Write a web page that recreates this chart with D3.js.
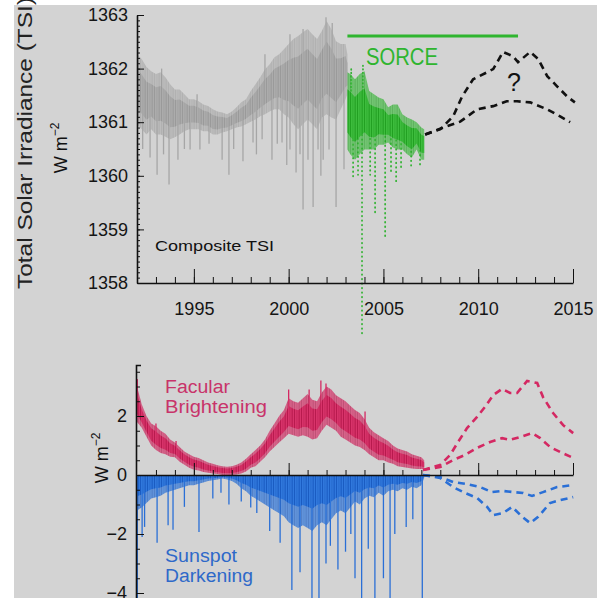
<!DOCTYPE html>
<html>
<head>
<meta charset="utf-8">
<script src="https://cdn.jsdelivr.net/npm/d3@7"></script>
<style>
  body { margin: 0; background: #fff; }
  svg { display: block; font-family: "Liberation Sans", Arial, sans-serif; }
  .axis path, .axis line { stroke: #111; }
  .axis text { fill: #151515; font-size: 18px; }
</style>
</head>
<body>
<svg id="chart" width="606" height="598"></svg>
<script>
// ---- top panel: composite TSI, binned envelope (W m-2) ----
const compositeYears = [1992, 1992.25, 1992.5, 1992.75, 1993, 1993.25, 1993.5, 1993.75, 1994, 1994.25, 1994.5, 1994.75,
  1995, 1995.25, 1995.5, 1995.75, 1996, 1996.25, 1996.5, 1996.75, 1997, 1997.25, 1997.5, 1997.75,
  1998, 1998.25, 1998.5, 1998.75, 1999, 1999.25, 1999.5, 1999.75, 2000, 2000.25, 2000.5, 2000.75,
  2001, 2001.25, 2001.5, 2001.75, 2002, 2002.25, 2002.5, 2002.75, 2003, 2003.1];
const compositeHigh = [1362.27, 1362.18, 1362.03, 1361.95, 1361.90, 1361.93, 1361.84, 1361.71, 1361.61, 1361.61, 1361.52, 1361.43,
  1361.43, 1361.39, 1361.33, 1361.30, 1361.24, 1361.20, 1361.18, 1361.15, 1361.20, 1361.28, 1361.37, 1361.43,
  1361.58, 1361.71, 1361.84, 1361.99, 1362.08, 1362.21, 1362.27, 1362.36, 1362.46, 1362.55, 1362.61, 1362.68,
  1362.74, 1362.64, 1362.55, 1362.70, 1362.89, 1362.74, 1362.51, 1362.46, 1362.46, 1362.27];
const compositeLow = [1360.96, 1360.87, 1360.77, 1360.87, 1360.77, 1360.77, 1360.73, 1360.68, 1360.72, 1360.77, 1360.83, 1360.87,
  1360.87, 1360.87, 1360.83, 1360.83, 1360.77, 1360.77, 1360.81, 1360.83, 1360.87, 1360.90, 1360.92, 1360.96,
  1361.01, 1361.05, 1361.11, 1361.15, 1361.20, 1361.24, 1361.24, 1361.15, 1361.09, 1360.96, 1360.87, 1360.96,
  1361.05, 1360.96, 1360.87, 1361.09, 1361.15, 1361.09, 1361.05, 1361.24, 1361.43, 1361.52];
const compositeDips = [[1992.3, 1360.5], [1992.69, 1360.34], [1993.06, 1360.02], [1993.4, 1360.4], [1993.69, 1359.84],
  [1994.16, 1360.30], [1994.5, 1360.5], [1994.80, 1360.49], [1995.32, 1360.49], [1995.8, 1360.6], [1996.49, 1360.30],
  [1996.85, 1360.02], [1997.1, 1360.5], [1997.59, 1360.27], [1998.12, 1360.62], [1998.3, 1360.4], [1998.60, 1360.68],
  [1999.12, 1360.30], [1999.4, 1360.6], [1999.65, 1360.62], [1999.9, 1360.2], [2000.07, 1360.49], [2000.39, 1360.06],
  [2000.6, 1360.4], [2000.76, 1359.37], [2001.02, 1360.30], [2001.29, 1359.42], [2001.55, 1360.49], [2001.7, 1360.0],
  [2001.82, 1360.30], [2002.13, 1360.49], [2002.50, 1359.42], [2002.92, 1360.12]];
const compositePeaks = [[1992.05, 1362.6], [1993.3, 1362.0], [1995.17, 1361.52], [1998.75, 1362.27], [2000.07, 1362.64],
  [2000.76, 1362.74], [2001.97, 1362.96], [2002.3, 1362.85]];

// SORCE measurements
const sorceYears = [2003.1, 2003.25, 2003.5, 2003.75, 2004, 2004.25, 2004.5, 2004.75, 2005, 2005.25, 2005.5, 2005.75,
  2006, 2006.25, 2006.5, 2006.75, 2007, 2007.15];
const sorceHigh = [1361.93, 1361.90, 1361.80, 1361.90, 1361.95, 1361.58, 1361.52, 1361.46, 1361.43, 1361.28, 1361.33, 1361.33,
  1361.15, 1361.09, 1361.05, 1361.00, 1360.90, 1360.87];
const sorceLow = [1360.49, 1360.40, 1360.30, 1360.40, 1360.49, 1360.49, 1360.49, 1360.58, 1360.58, 1360.62, 1360.53, 1360.49,
  1360.49, 1360.40, 1360.34, 1360.49, 1360.30, 1360.30];
const sorceDips = [[2003.40, 1359.99], [2003.66, 1360.02], [2003.87, 1357.06], [2004.30, 1360.02], [2004.56, 1359.31],
  [2005.09, 1358.86], [2005.40, 1360.02], [2005.67, 1359.87], [2005.93, 1360.12], [2006.46, 1360.12], [2006.93, 1360.21]];
const sorcePeaks = [[2003.3, 1362.0], [2003.92, 1362.08]];

// projected TSI (dashed)
const tsiUpperYears = [2007.2, 2008.0, 2008.68, 2009.15, 2009.73, 2010.79, 2011.31, 2011.84, 2012.1, 2012.74, 2013.16, 2013.64, 2014.16, 2014.69, 2015.1];
const tsiUpperValues = [1360.77, 1360.87, 1361.11, 1361.48, 1361.80, 1361.99, 1362.31, 1362.23, 1362.12, 1362.31, 1362.18, 1361.86, 1361.67, 1361.48, 1361.37];
const tsiLowerYears = [2007.2, 2008.15, 2009.05, 2009.94, 2010.79, 2011.5, 2012.05, 2012.74, 2013.64, 2014.32, 2014.85];
const tsiLowerValues = [1360.77, 1360.90, 1361.01, 1361.24, 1361.30, 1361.39, 1361.39, 1361.37, 1361.24, 1361.11, 1361.00];

// ---- bottom panel: facular brightening / sunspot darkening ----
const componentYears = [1992, 1992.25, 1992.5, 1992.75, 1993, 1993.25, 1993.5, 1993.75, 1994, 1994.25, 1994.5, 1994.75,
  1995, 1995.25, 1995.5, 1995.75, 1996, 1996.25, 1996.5, 1996.75, 1997, 1997.25, 1997.5, 1997.75,
  1998, 1998.25, 1998.5, 1998.75, 1999, 1999.25, 1999.5, 1999.75, 2000, 2000.25, 2000.5, 2000.75,
  2001, 2001.25, 2001.5, 2001.75, 2002, 2002.25, 2002.5, 2002.75, 2003, 2003.25, 2003.5, 2003.75,
  2004, 2004.25, 2004.5, 2004.75, 2005, 2005.25, 2005.5, 2005.75, 2006, 2006.25, 2006.5, 2006.75, 2007, 2007.15];
const facularHigh = [3.0, 2.4, 2.0, 1.75, 1.65, 1.5, 1.4, 1.2, 1.1, 0.95, 0.8, 0.7,
  0.62, 0.58, 0.5, 0.42, 0.38, 0.33, 0.3, 0.28, 0.3, 0.35, 0.42, 0.55,
  0.7, 0.85, 1.0, 1.2, 1.5, 1.75, 2.0, 2.2, 2.6, 2.5, 2.45, 2.6,
  2.75, 2.55, 2.5, 2.8, 3.0, 2.9, 2.7, 2.6, 2.5, 2.35, 2.2, 2.1,
  1.9, 1.6, 1.45, 1.35, 1.25, 1.15, 1.0, 0.9, 0.85, 0.8, 0.7, 0.65, 0.6, 0.5];
const facularLow = [1.8, 1.6, 1.3, 1.0, 0.85, 0.75, 0.7, 0.62, 0.6, 0.45, 0.35, 0.25,
  0.18, 0.15, 0.1, 0.08, 0.05, 0.03, 0.0, 0.0, 0.0, 0.02, 0.05, 0.12,
  0.25, 0.3, 0.45, 0.6, 0.8, 0.95, 1.1, 1.25, 1.4, 1.35, 1.3, 1.35,
  1.3, 1.2, 1.25, 1.5, 1.7, 1.6, 1.5, 1.3, 1.2, 1.1, 1.0, 0.95,
  0.85, 0.7, 0.6, 0.5, 0.5, 0.42, 0.38, 0.3, 0.27, 0.25, 0.22, 0.2, 0.2, 0.2];
const facularPeaks = [[1992.02, 3.25], [1993.0, 1.75], [1994.06, 1.15], [2000.0, 2.9], [2001.08, 2.9], [2001.7, 3.2],
  [2001.97, 3.1], [2004.03, 2.15]];
const sunspotLow = [-1.2, -1.1, -0.95, -0.8, -0.75, -0.7, -0.6, -0.55, -0.5, -0.45, -0.4, -0.35,
  -0.35, -0.3, -0.25, -0.2, -0.18, -0.15, -0.12, -0.15, -0.2, -0.3, -0.45, -0.55,
  -0.7, -0.8, -0.9, -1.0, -1.1, -1.2, -1.3, -1.4, -1.6, -1.7, -1.8, -1.7,
  -1.8, -1.9, -1.7, -1.6, -1.7, -1.5, -1.3, -1.2, -1.3, -1.1, -0.9, -1.0,
  -0.8, -0.7, -0.75, -0.6, -0.7, -0.55, -0.5, -0.55, -0.45, -0.5, -0.4, -0.45, -0.35, -0.1];
const sunspotDips = [[1992.02, -4.2], [1992.27, -2.1], [1992.4, -1.76], [1993.06, -2.3], [1993.64, -1.7], [1993.9, -1.86],
  [1994.5, -1.08], [1995.27, -1.93], [1996.0, -0.8], [1996.43, -0.6], [1996.85, -1.0], [1997.5, -0.9], [1998.0, -1.1],
  [1998.32, -1.29], [1999.0, -1.9], [1999.55, -2.3], [2000.17, -3.9], [2000.6, -3.3], [2001.23, -4.2], [2001.6, -4.2],
  [2001.97, -3.0], [2002.2, -2.4], [2002.6, -3.2], [2003.0, -2.6], [2003.28, -2.0], [2003.5, -3.5], [2003.85, -4.2],
  [2004.2, -2.5], [2004.55, -4.2], [2005.0, -3.5], [2005.35, -4.2], [2005.6, -2.0], [2006.2, -1.76], [2006.55, -1.5],
  [2007.05, -4.2]];

// projections (dashed)
const facularUpperYears = [2007.09, 2007.99, 2008.52, 2008.94, 2009.41, 2009.94, 2010.36, 2010.79, 2011.26, 2011.68, 2012.05, 2012.58, 2013.11, 2013.42, 2013.95, 2014.48, 2015.01];
const facularUpperValues = [0.17, 0.34, 0.68, 1.12, 1.59, 1.97, 2.31, 2.71, 2.92, 2.78, 2.78, 3.19, 3.12, 2.64, 2.10, 1.69, 1.42];
const facularLowerYears = [2007.09, 2007.99, 2008.68, 2009.31, 2009.94, 2010.63, 2011.26, 2011.68, 2012.21, 2012.84, 2013.27, 2013.79, 2014.32, 2015.01];
const facularLowerValues = [0.17, 0.27, 0.51, 0.68, 0.92, 1.12, 1.25, 1.19, 1.29, 1.42, 1.25, 0.95, 0.78, 0.58];
const sunspotSmallYears = [2007.09, 2007.99, 2008.68, 2009.41, 2010.1, 2010.73, 2011.31, 2011.84, 2012.37, 2012.84, 2013.42, 2014.16, 2015.01];
const sunspotSmallValues = [0, -0.07, -0.24, -0.31, -0.41, -0.58, -0.54, -0.58, -0.61, -0.71, -0.58, -0.41, -0.34];
const sunspotLargeYears = [2007.09, 2007.99, 2008.68, 2009.31, 2009.94, 2010.47, 2010.79, 2011.31, 2011.79, 2012.32, 2012.74, 2013.16, 2013.79, 2014.32, 2015.01];
const sunspotLargeValues = [0, -0.10, -0.41, -0.61, -0.78, -1.08, -1.36, -1.29, -1.08, -1.42, -1.63, -1.42, -0.95, -0.85, -0.75];

const yearLabels = [1995, 2000, 2005, 2010, 2015];
const tsiTickLabels = [1358, 1359, 1360, 1361, 1362, 1363];
const componentTickLabels = [-4, -2, 0, 2];

const GREY = '#a6a6a6';
const GREEN = '#2fb52f';
const PINK = '#d42862';
const BLUE = '#2a6fd6';

const svg = d3.select('#chart');
svg.append('rect').attr('x', 14).attr('y', 5).attr('width', 583).attr('height', 593).attr('fill', '#d3d3d3');

const x = d3.scaleLinear().domain([1992, 2015]).range([137, 573]);
const yTsi = d3.scaleLinear().domain([1358, 1363]).range([283, 15]);
const yComp = d3.scaleLinear().domain([-4, 2]).range([593, 416]);

// irregular vertical stripes give the bands a noisy, many-samples look
const defs = svg.append('defs');
function hatch(id, base, dark) {
  const p = defs.append('pattern').attr('id', id).attr('patternUnits', 'userSpaceOnUse')
    .attr('width', 7).attr('height', 4);
  p.append('rect').attr('width', 7).attr('height', 4).attr('fill', base);
  p.append('rect').attr('x', 0).attr('width', 1).attr('height', 4).attr('fill', dark);
  p.append('rect').attr('x', 2.5).attr('width', 0.8).attr('height', 4).attr('fill', dark).attr('opacity', 0.6);
  p.append('rect').attr('x', 4.5).attr('width', 1.4).attr('height', 4).attr('fill', dark).attr('opacity', 0.8);
}
hatch('hGrey', '#acacac', '#9a9a9a');
hatch('hGreen', '#3dbd3d', '#22a022');
hatch('hPink', '#d8336a', '#b81a4e');
hatch('hBlue', '#3078dd', '#1a5cc2');

const zip = (years, a, b) => years.map((yr, i) => ({ yr, hi: a[i], lo: b[i] }));
// inner core of an envelope (middle half of its width)
const core = (bins) => bins.map((d) => ({ yr: d.yr, hi: d.hi - (d.hi - d.lo) * 0.22, lo: d.lo + (d.hi - d.lo) * 0.22 }));

function drawBand(g, bins, y, fill, opacity) {
  const area = d3.area().x((d) => x(d.yr)).y0((d) => y(d.lo)).y1((d) => y(d.hi));
  g.append('path').datum(bins).attr('d', area).attr('fill', fill).attr('opacity', opacity || 1);
}

function drawSpikes(g, bins, spikes, y, color, width, dash) {
  const mid = d3.scaleLinear().domain(bins.map((d) => d.yr)).range(bins.map((d) => (d.hi + d.lo) / 2)).clamp(true);
  g.selectAll(null).data(spikes).enter().append('line')
    .attr('x1', (d) => x(d[0])).attr('x2', (d) => x(d[0]))
    .attr('y1', (d) => y(mid(d[0]))).attr('y2', (d) => y(d[1]))
    .attr('stroke', color).attr('stroke-width', width)
    .attr('stroke-dasharray', dash || null)
    .attr('stroke-linecap', dash ? 'round' : 'butt');
}

function drawDashed(g, years, values, y, color) {
  const line = d3.line().x((d) => x(d[0])).y((d) => y(d[1]));
  g.append('path').datum(years.map((yr, i) => [yr, values[i]])).attr('d', line)
    .attr('fill', 'none').attr('stroke', color).attr('stroke-width', 2.6)
    .attr('stroke-dasharray', '7,5');
}

// ---------- top panel ----------
const topPanel = svg.append('g');
const greyBins = zip(compositeYears, compositeHigh, compositeLow);
drawSpikes(topPanel, greyBins, compositeDips, yTsi, GREY, 1.3);
drawSpikes(topPanel, greyBins, compositePeaks, yTsi, GREY, 1.3);
drawBand(topPanel, greyBins, yTsi, 'url(#hGrey)', 0.6);
drawBand(topPanel, core(greyBins), yTsi, 'url(#hGrey)');

const sorceBins = zip(sorceYears, sorceHigh, sorceLow);
drawSpikes(topPanel, sorceBins, sorceDips, yTsi, '#35b335', 1.8, '0.5,4');
drawSpikes(topPanel, sorceBins, sorcePeaks, yTsi, '#35b335', 1.8, '0.5,3');
drawBand(topPanel, sorceBins, yTsi, 'url(#hGreen)', 0.65);
drawBand(topPanel, core(sorceBins), yTsi, 'url(#hGreen)');

drawDashed(topPanel, tsiUpperYears, tsiUpperValues, yTsi, '#111');
drawDashed(topPanel, tsiLowerYears, tsiLowerValues, yTsi, '#111');

topPanel.append('line').attr('x1', x(2003.1)).attr('x2', x(2012.1)).attr('y1', 36).attr('y2', 36)
  .attr('stroke', GREEN).attr('stroke-width', 3.2);
topPanel.append('text').attr('x', 366).attr('y', 65).attr('font-size', 24).attr('fill', GREEN)
  .attr('textLength', 72).attr('lengthAdjust', 'spacingAndGlyphs').text('SORCE');
topPanel.append('text').attr('x', 507).attr('y', 91).attr('font-size', 25).attr('fill', '#111').text('?');
topPanel.append('text').attr('x', 155).attr('y', 251).attr('font-size', 15).attr('fill', '#111')
  .attr('textLength', 119).attr('lengthAdjust', 'spacingAndGlyphs').text('Composite TSI');

// axes
const minorTsi = d3.range(13580, 13631).map((d) => d / 10);
topPanel.append('g').attr('class', 'axis').attr('transform', 'translate(137,0)')
  .call(d3.axisLeft(yTsi).tickValues(minorTsi).tickSize(-3).tickSizeOuter(0).tickFormat(''))
  .call((g) => g.select('.domain').attr('stroke-width', 1.6));
topPanel.append('g').attr('class', 'axis').attr('transform', 'translate(137,0)')
  .call(d3.axisLeft(yTsi).tickValues(tsiTickLabels).tickSize(-7).tickSizeOuter(0).tickPadding(9).tickFormat(d3.format('d')))
  .call((g) => g.select('.domain').remove());
topPanel.append('g').attr('class', 'axis').attr('transform', 'translate(0,283)')
  .call(d3.axisBottom(x).tickValues(d3.range(1993, 2015)).tickSize(-6).tickSizeOuter(0).tickFormat(''))
  .call((g) => g.select('.domain').attr('stroke-width', 1.6));
topPanel.append('g').attr('class', 'axis').attr('transform', 'translate(0,283)')
  .call(d3.axisBottom(x).tickValues(yearLabels).tickSize(-14).tickSizeOuter(0).tickPadding(19).tickFormat(d3.format('d')))
  .call((g) => g.select('.domain').remove());

topPanel.append('text').attr('transform', 'translate(32,143) rotate(-90)').attr('text-anchor', 'middle')
  .attr('font-size', 20).attr('fill', '#222').attr('textLength', 292).attr('lengthAdjust', 'spacingAndGlyphs')
  .text('Total Solar Irradiance (TSI)');
const wm1 = topPanel.append('text').attr('transform', 'translate(67,148) rotate(-90)').attr('text-anchor', 'middle')
  .attr('font-size', 18).attr('fill', '#111');
wm1.append('tspan').text('W m');
wm1.append('tspan').attr('dy', -8).attr('font-size', 12).text('−2');

// ---------- bottom panel ----------
const botPanel = svg.append('g');
const facBins = zip(componentYears, facularHigh, facularLow);
const sunBins = zip(componentYears, sunspotLow.map(() => 0), sunspotLow);
drawSpikes(botPanel, sunBins, sunspotDips, yComp, BLUE, 1.3);
drawBand(botPanel, sunBins, yComp, 'url(#hBlue)', 0.7);
drawBand(botPanel, zip(componentYears, sunspotLow.map(() => 0), sunspotLow.map((v) => v * 0.6)), yComp, 'url(#hBlue)');
drawSpikes(botPanel, facBins, facularPeaks, yComp, PINK, 1.3);
drawBand(botPanel, facBins, yComp, 'url(#hPink)', 0.7);
drawBand(botPanel, core(facBins), yComp, 'url(#hPink)');

drawDashed(botPanel, facularUpperYears, facularUpperValues, yComp, PINK);
drawDashed(botPanel, facularLowerYears, facularLowerValues, yComp, PINK);
drawDashed(botPanel, sunspotSmallYears, sunspotSmallValues, yComp, BLUE);
drawDashed(botPanel, sunspotLargeYears, sunspotLargeValues, yComp, BLUE);

const yCompAxis = d3.scaleLinear().domain([-4.3, 3.73]).range([yComp(-4.3), yComp(3.73)]);
botPanel.append('g').attr('class', 'axis').attr('transform', 'translate(136,0)')
  .call(d3.axisLeft(yCompAxis).tickValues(d3.range(-8, 8).map((d) => d / 2)).tickSize(-4).tickSizeOuter(-5).tickFormat(''))
  .call((g) => g.select('.domain').attr('stroke-width', 1.6));
botPanel.append('g').attr('class', 'axis').attr('transform', 'translate(136,0)')
  .call(d3.axisLeft(yCompAxis).tickValues(componentTickLabels).tickSize(-8).tickSizeOuter(0).tickPadding(9)
    .tickFormat((d) => (d < 0 ? '−' + Math.abs(d) : d)))
  .call((g) => g.select('.domain').remove());
botPanel.append('g').attr('class', 'axis').attr('transform', `translate(0,${yComp(0)})`)
  .call(d3.axisBottom(x).tickValues(d3.range(1993, 2015)).tickSize(-5).tickSizeOuter(0).tickFormat(''))
  .call((g) => g.select('.domain').attr('stroke-width', 1.6));
botPanel.append('g').attr('class', 'axis').attr('transform', `translate(0,${yComp(0)})`)
  .call(d3.axisBottom(x).tickValues(yearLabels).tickSize(-12).tickSizeOuter(0).tickFormat(''))
  .call((g) => g.select('.domain').remove());

const wm2 = botPanel.append('text').attr('transform', 'translate(108,458) rotate(-90)').attr('text-anchor', 'middle')
  .attr('font-size', 18).attr('fill', '#111');
wm2.append('tspan').text('W m');
wm2.append('tspan').attr('dy', -8).attr('font-size', 12).text('−2');

botPanel.append('text').attr('x', 165).attr('y', 393).attr('font-size', 18).attr('fill', '#c8336a')
  .attr('textLength', 65).attr('lengthAdjust', 'spacingAndGlyphs').text('Facular');
botPanel.append('text').attr('x', 165).attr('y', 413).attr('font-size', 18).attr('fill', '#c8336a')
  .attr('textLength', 102).attr('lengthAdjust', 'spacingAndGlyphs').text('Brightening');
botPanel.append('text').attr('x', 165).attr('y', 562).attr('font-size', 18).attr('fill', '#2e69c9')
  .attr('textLength', 72).attr('lengthAdjust', 'spacingAndGlyphs').text('Sunspot');
botPanel.append('text').attr('x', 165).attr('y', 582).attr('font-size', 18).attr('fill', '#2e69c9')
  .attr('textLength', 88).attr('lengthAdjust', 'spacingAndGlyphs').text('Darkening');
</script>
</body>
</html>
